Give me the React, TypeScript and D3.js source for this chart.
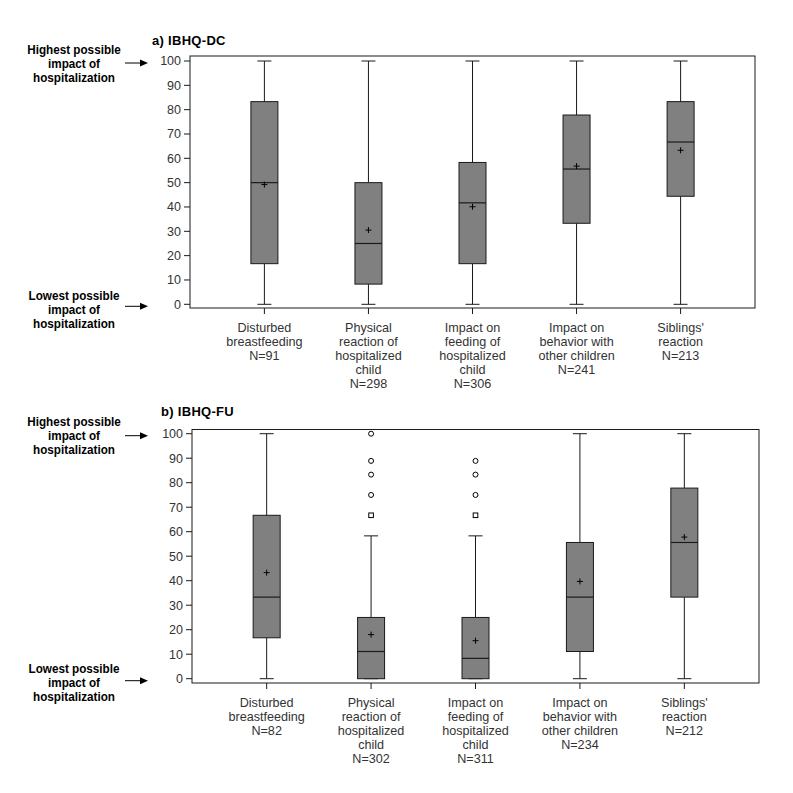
import React from "react";
import * as d3 from "d3";

const categoryLabels: string[][] = [
  ["Disturbed", "breastfeeding"],
  ["Physical", "reaction of", "hospitalized", "child"],
  ["Impact on", "feeding of", "hospitalized", "child"],
  ["Impact on", "behavior with", "other children"],
  ["Siblings'", "reaction"],
];

// a) IBHQ-DC
const dcN = [91, 298, 306, 241, 213];
const dcMin = [0, 0, 0, 0, 0];
const dcQ1 = [16.7, 8.3, 16.7, 33.3, 44.4];
const dcMedian = [50, 25, 41.7, 55.6, 66.7];
const dcQ3 = [83.3, 50, 58.3, 77.8, 83.3];
const dcMax = [100, 100, 100, 100, 100];
const dcMean = [49.2, 30.5, 40.1, 56.8, 63.3];
const dcOutliers: number[][] = [[], [], [], [], []];

// b) IBHQ-FU
const fuN = [82, 302, 311, 234, 212];
const fuMin = [0, 0, 0, 0, 0];
const fuQ1 = [16.7, 0, 0, 11.1, 33.3];
const fuMedian = [33.3, 11.1, 8.3, 33.3, 55.6];
const fuQ3 = [66.7, 25, 25, 55.6, 77.8];
const fuMax = [100, 58.3, 58.3, 100, 100];
const fuMean = [43.3, 18.0, 15.5, 39.7, 57.8];
const fuOutliers: number[][] = [[], [100, 88.9, 83.3, 75, 66.7], [88.9, 83.3, 75, 66.7], [], []];

const yTicks = [0, 10, 20, 30, 40, 50, 60, 70, 80, 90, 100];

const INK = "#1a1a1a";
const TEXT = "#333";
const FONT = "Liberation Sans, Arial, sans-serif";

type PanelProps = {
  title: string;
  titleX: number;
  titleY: number;
  frame: { left: number; right: number; top: number; bottom: number };
  yRange: [number, number];
  n: number[];
  mins: number[];
  q1: number[];
  med: number[];
  q3: number[];
  maxs: number[];
  means: number[];
  outliers: number[][];
  hiY: number;
  loY: number;
};

function Annotation({ lines, y, arrowY }: { lines: string[]; y: number; arrowY: number }) {
  return (
    <g>
      <g transform="translate(74,0) scale(0.9,1)">
        {lines.map((l, i) => (
          <text
            key={i}
            x={0}
            y={y + i * 14}
            textAnchor="middle"
            fontFamily={FONT}
            fontWeight="bold"
            fontSize={13}
            fill="#000"
          >
            {l}
          </text>
        ))}
      </g>
      <line x1={125} x2={142} y1={arrowY} y2={arrowY} stroke="#000" strokeWidth={1} />
      <path d={`M148,${arrowY} L140,${arrowY - 3.5} L140,${arrowY + 3.5} Z`} fill="#000" />
    </g>
  );
}

function Panel(p: PanelProps) {
  const idx = categoryLabels.map((_, i) => i);
  const x = d3
    .scalePoint<number>()
    .domain(idx)
    .range([p.frame.left, p.frame.right])
    .padding(0.715);
  const y = d3.scaleLinear().domain([0, 100]).range(p.yRange);
  const boxW = 27;
  const capW = 14;
  return (
    <g>
      <text x={p.titleX} y={p.titleY} fontFamily={FONT} fontWeight="bold" fontSize={13} letterSpacing={0.3} fill="#000">
        {p.title}
      </text>
      <Annotation lines={["Highest possible", "impact of", "hospitalization"]} y={p.hiY} arrowY={y(100) + 2} />
      <Annotation lines={["Lowest possible", "impact of", "hospitalization"]} y={p.loY} arrowY={y(0) + 2} />
      <rect
        x={p.frame.left}
        y={p.frame.top}
        width={p.frame.right - p.frame.left}
        height={p.frame.bottom - p.frame.top}
        fill="none"
        stroke={INK}
        strokeWidth={1}
      />
      {yTicks.map((t) => (
        <g key={t}>
          <line x1={p.frame.left - 6} x2={p.frame.left} y1={y(t)} y2={y(t)} stroke={INK} />
          <text
            x={p.frame.left - 9}
            y={y(t)}
            dy="0.35em"
            textAnchor="end"
            fontFamily={FONT}
            fontSize={12.5}
            fill={TEXT}
          >
            {t}
          </text>
        </g>
      ))}
      {idx.map((i) => {
        const cx = x(i) as number;
        const lines = [...categoryLabels[i], `N=${p.n[i]}`];
        return (
          <g key={i}>
            <line x1={cx} x2={cx} y1={p.frame.bottom} y2={p.frame.bottom + 6} stroke={INK} />
            {lines.map((l, k) => (
              <text
                key={k}
                x={cx}
                y={p.frame.bottom + 24 + k * 14}
                textAnchor="middle"
                fontFamily={FONT}
                fontSize={12.6}
                fill={TEXT}
              >
                {l}
              </text>
            ))}
            {/* whiskers */}
            <line x1={cx} x2={cx} y1={y(p.maxs[i])} y2={y(p.q3[i])} stroke={INK} />
            <line x1={cx} x2={cx} y1={y(p.q1[i])} y2={y(p.mins[i])} stroke={INK} />
            <line x1={cx - capW / 2} x2={cx + capW / 2} y1={y(p.maxs[i])} y2={y(p.maxs[i])} stroke={INK} />
            <line x1={cx - capW / 2} x2={cx + capW / 2} y1={y(p.mins[i])} y2={y(p.mins[i])} stroke={INK} />
            {/* box */}
            <rect
              x={cx - boxW / 2}
              y={y(p.q3[i])}
              width={boxW}
              height={y(p.q1[i]) - y(p.q3[i])}
              fill="#808080"
              stroke={INK}
              strokeWidth={1}
            />
            <line x1={cx - boxW / 2} x2={cx + boxW / 2} y1={y(p.med[i])} y2={y(p.med[i])} stroke={INK} strokeWidth={1.2} />
            {/* mean */}
            <line x1={cx - 3} x2={cx + 3} y1={y(p.means[i])} y2={y(p.means[i])} stroke="#000" />
            <line x1={cx} x2={cx} y1={y(p.means[i]) - 3} y2={y(p.means[i]) + 3} stroke="#000" />
            {/* outliers */}
            {p.outliers[i].map((o, k) =>
              k === p.outliers[i].length - 1 ? (
                <rect key={k} x={cx - 2.3} y={y(o) - 2.3} width={4.6} height={4.6} fill="#fff" stroke="#000" strokeWidth={1} />
              ) : (
                <circle key={k} cx={cx} cy={y(o)} r={2.5} fill="#fff" stroke="#000" strokeWidth={1} />
              )
            )}
          </g>
        );
      })}
    </g>
  );
}

export default function App() {
  return (
    <svg
      width={793}
      height={793}
      viewBox="0 0 793 793"
      style={{ position: "absolute", left: 0, top: 0, background: "#fff" }}
    >
      <rect x={0} y={0} width={793} height={793} fill="#fff" />
      <Panel
        title="a) IBHQ-DC"
        titleX={152}
        titleY={45}
        frame={{ left: 190, right: 755, top: 56, bottom: 308 }}
        yRange={[304.3, 61]}
        n={dcN}
        mins={dcMin}
        q1={dcQ1}
        med={dcMedian}
        q3={dcQ3}
        maxs={dcMax}
        means={dcMean}
        outliers={dcOutliers}
        hiY={54}
        loY={300}
      />
      <Panel
        title="b) IBHQ-FU"
        titleX={161}
        titleY={416}
        frame={{ left: 192, right: 759, top: 429.5, bottom: 683 }}
        yRange={[678.7, 433.7]}
        n={fuN}
        mins={fuMin}
        q1={fuQ1}
        med={fuMedian}
        q3={fuQ3}
        maxs={fuMax}
        means={fuMean}
        outliers={fuOutliers}
        hiY={426}
        loY={673}
      />
    </svg>
  );
}
